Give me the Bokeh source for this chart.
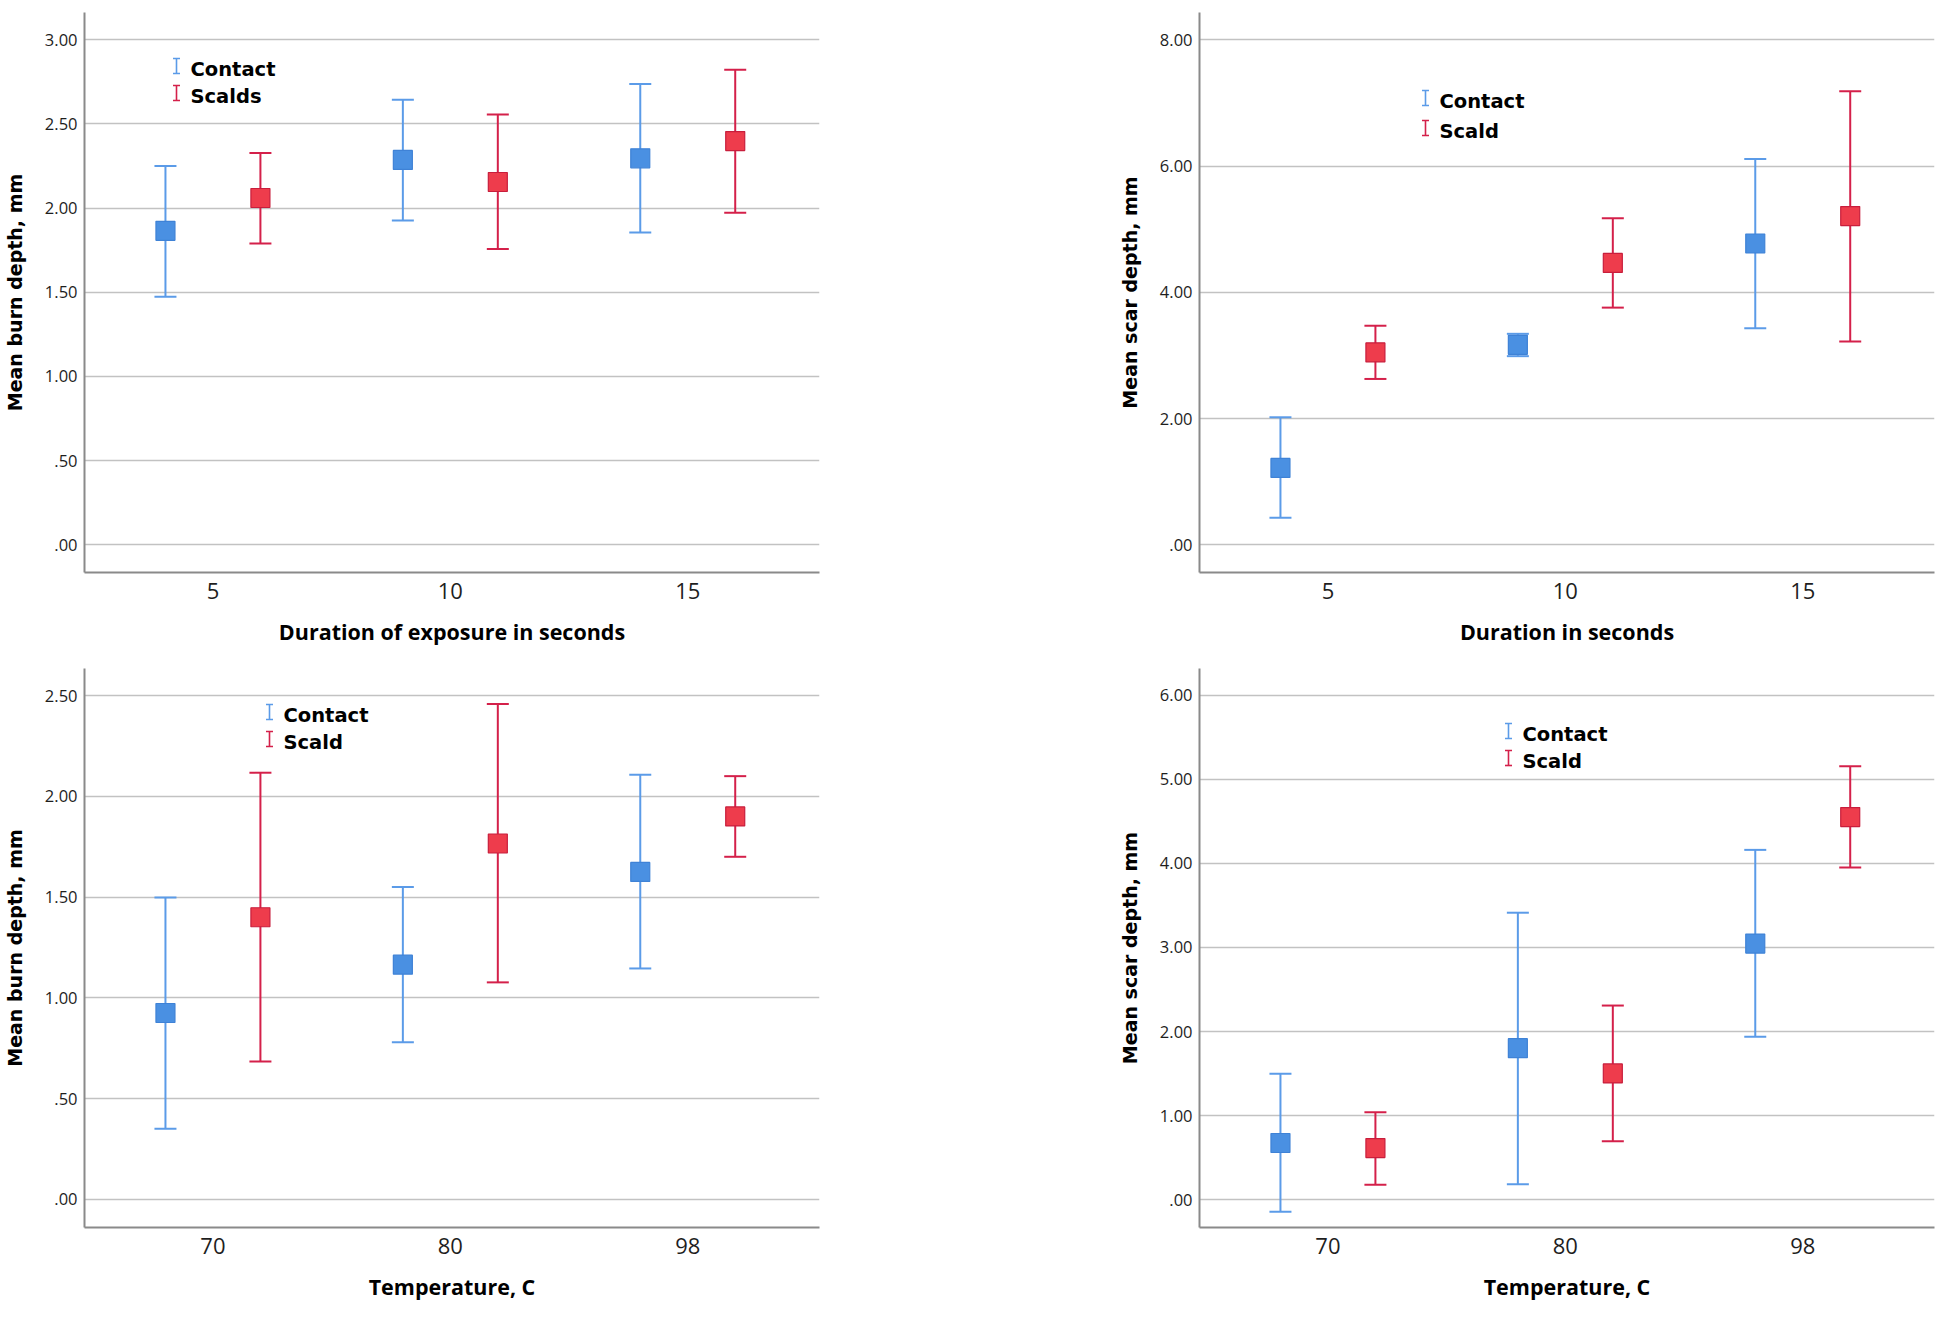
from bokeh.plotting import figure
from bokeh.models import ColumnDataSource, Whisker, TeeHead, FixedTicker, Range1d
from bokeh.layouts import column, row
from bokeh.core.properties import value
from bokeh.embed import file_html
from bokeh.resources import INLINE

# ---------------- data ----------------
duration_cats = ["5", "10", "15"]
temp_cats = ["70", "80", "98"]

# Panel 1: burn depth vs duration
p1_contact_mean = [1.865, 2.286, 2.296]
p1_contact_lo = [1.474, 1.927, 1.855]
p1_contact_hi = [2.250, 2.644, 2.737]
p1_scald_mean = [2.060, 2.155, 2.398]
p1_scald_lo = [1.790, 1.757, 1.972]
p1_scald_hi = [2.328, 2.556, 2.822]
p1_yticks = [0.0, 0.5, 1.0, 1.5, 2.0, 2.5, 3.0]
p1_ylabels = [".00", ".50", "1.00", "1.50", "2.00", "2.50", "3.00"]

# Panel 2: scar depth vs duration
p2_contact_mean = [1.217, 3.168, 4.773]
p2_contact_lo = [0.430, 2.988, 3.430]
p2_contact_hi = [2.020, 3.342, 6.110]
p2_scald_mean = [3.048, 4.465, 5.207]
p2_scald_lo = [2.627, 3.757, 3.222]
p2_scald_hi = [3.470, 5.174, 7.186]
p2_yticks = [0.0, 2.0, 4.0, 6.0, 8.0]
p2_ylabels = [".00", "2.00", "4.00", "6.00", "8.00"]

# Panel 3: burn depth vs temperature
p3_contact_mean = [0.925, 1.165, 1.625]
p3_contact_lo = [0.351, 0.780, 1.146]
p3_contact_hi = [1.498, 1.550, 2.107]
p3_scald_mean = [1.400, 1.766, 1.900]
p3_scald_lo = [0.684, 1.077, 1.700]
p3_scald_hi = [2.117, 2.458, 2.100]
p3_yticks = [0.0, 0.5, 1.0, 1.5, 2.0, 2.5]
p3_ylabels = [".00", ".50", "1.00", "1.50", "2.00", "2.50"]

# Panel 4: scar depth vs temperature
p4_contact_mean = [0.673, 1.802, 3.047]
p4_contact_lo = [-0.146, 0.181, 1.938]
p4_contact_hi = [1.496, 3.414, 4.162]
p4_scald_mean = [0.612, 1.501, 4.553]
p4_scald_lo = [0.176, 0.693, 3.951]
p4_scald_hi = [1.039, 2.309, 5.156]
p4_yticks = [0.0, 1.0, 2.0, 3.0, 4.0, 5.0, 6.0]
p4_ylabels = [".00", "1.00", "2.00", "3.00", "4.00", "5.00", "6.00"]

# ---------------- style ----------------
BLUE_FILL = "#4a90e2"
BLUE_EDGE = "#3f82d6"
BLUE_LINE = "#5b9be8"
RED_FILL = "#ee3c4c"
RED_EDGE = "#c81e3c"
RED_LINE = "#d4204a"
GRID = "#c2c2c2"
AXIS = "#8a8a8a"

FRAME_W = 735
X_RANGE = (-0.541, 2.555)
OFFSET = 0.2


def make_panel(cats, yticks, ylabels, cm, clo, chi, sm, slo, shi,
               xlabel, ylabel, yr, frame_h, legend, names,
               border_left, border_right, border_top, border_bottom):
    p = figure(frame_width=FRAME_W, frame_height=frame_h,
               min_border_left=border_left, min_border_right=border_right,
               min_border_top=border_top, min_border_bottom=border_bottom,
               x_range=Range1d(*X_RANGE), y_range=Range1d(*yr),
               output_backend="svg", toolbar_location=None, tools="")
    p.outline_line_color = None
    p.background_fill_color = "white"
    p.border_fill_color = "white"

    p.xgrid.visible = False
    p.ygrid.grid_line_color = GRID
    p.ygrid.grid_line_width = 1.6
    p.ygrid.ticker = FixedTicker(ticks=yticks)

    xi = list(range(len(cats)))
    p.xaxis.ticker = FixedTicker(ticks=xi)
    p.xaxis.major_label_overrides = {i: c for i, c in zip(xi, cats)}
    p.yaxis.ticker = FixedTicker(ticks=yticks)
    p.yaxis.major_label_overrides = {t: l for t, l in zip(yticks, ylabels)}

    for ax in (p.xaxis[0], p.yaxis[0]):
        ax.axis_line_color = AXIS
        ax.axis_line_width = 2
        ax.major_tick_line_color = None
        ax.minor_tick_line_color = None
        ax.major_tick_out = 0
        ax.major_tick_in = 0
        ax.minor_tick_out = 0
        ax.major_label_text_color = "#1e1e1e"
        ax.axis_label_text_color = "black"
        ax.axis_label_text_font_style = "bold"

    p.yaxis.major_label_text_font = "Open Sans"
    p.yaxis.major_label_text_font_size = "16.5px"
    p.yaxis.major_label_standoff = 7
    p.yaxis.axis_label = ylabel
    p.yaxis.axis_label_text_font = "DejaVu Sans"
    p.yaxis.axis_label_text_font_size = "19px"
    p.yaxis.axis_label_standoff = 16

    p.xaxis.major_label_text_font = "Open Sans"
    p.xaxis.major_label_text_font_size = "22px"
    p.xaxis.major_label_standoff = 10
    p.xaxis.axis_label = xlabel
    p.xaxis.axis_label_text_font = "Open Sans"
    p.xaxis.axis_label_text_font_size = "21.5px"
    p.xaxis.axis_label_standoff = 15

    groups = [
        (cm, clo, chi, -OFFSET, BLUE_FILL, BLUE_EDGE, BLUE_LINE),
        (sm, slo, shi, OFFSET, RED_FILL, RED_EDGE, RED_LINE),
    ]
    for m, lo, hi, off, fill, edge, line in groups:
        src = ColumnDataSource(dict(x=[i + off for i in xi], mean=m, lower=lo, upper=hi))
        w = Whisker(base="x", lower="lower", upper="upper", source=src,
                    dimension="height", line_color=line, line_width=2,
                    upper_head=TeeHead(size=22, line_color=line, line_width=2),
                    lower_head=TeeHead(size=22, line_color=line, line_width=2),
                    level="underlay")
        p.add_layout(w)
        p.scatter("x", "mean", source=src, marker="square", size=19,
                  fill_color=fill, line_color=edge, line_width=1.2)

    # legend (position given in frame pixels, converted to data units)
    icon_px, text_px, rows_px = legend
    xs = (X_RANGE[1] - X_RANGE[0]) / FRAME_W
    ys = (yr[1] - yr[0]) / frame_h

    def dx(px):
        return X_RANGE[0] + px * xs

    def dy(py):
        return yr[1] - py * ys

    for name, ry, line in zip(names, rows_px, (BLUE_LINE, RED_LINE)):
        ix = dx(icon_px)
        top = dy(ry - 11)
        bot = dy(ry + 4)
        hw = 3.5 * xs
        p.segment(x0=[ix, ix - hw, ix - hw], y0=[top, top, bot],
                  x1=[ix, ix + hw, ix + hw], y1=[bot, top, bot],
                  line_color=line, line_width=1.6)
        p.text(x=[dx(text_px)], y=[dy(ry)], text=[name],
               text_font=value("DejaVu Sans"), text_font_style="bold",
               text_font_size="19.5px", text_color="black",
               text_baseline="middle", text_align="left")
    return p


FRAME_H_TOP = 560
FRAME_H_BOT = 559

p1 = make_panel(duration_cats, p1_yticks, p1_ylabels,
                p1_contact_mean, p1_contact_lo, p1_contact_hi,
                p1_scald_mean, p1_scald_lo, p1_scald_hi,
                "Duration of exposure in seconds", "Mean burn depth, mm",
                (-0.1646, 3.162), FRAME_H_TOP,
                (92, 106, (57, 84)), ("Contact", "Scalds"),
                74, 191, 12, 88)
p2 = make_panel(duration_cats, p2_yticks, p2_ylabels,
                p2_contact_mean, p2_contact_lo, p2_contact_hi,
                p2_scald_mean, p2_scald_lo, p2_scald_hi,
                "Duration in seconds", "Mean scar depth, mm",
                (-0.439, 8.432), FRAME_H_TOP,
                (226, 240, (89, 119)), ("Contact", "Scald"),
                189, 8, 12, 88)
p3 = make_panel(temp_cats, p3_yticks, p3_ylabels,
                p3_contact_mean, p3_contact_lo, p3_contact_hi,
                p3_scald_mean, p3_scald_lo, p3_scald_hi,
                "Temperature, C", "Mean burn depth, mm",
                (-0.139, 2.634), FRAME_H_BOT,
                (185, 199, (47, 74)), ("Contact", "Scald"),
                74, 191, 8, 86)
p4 = make_panel(temp_cats, p4_yticks, p4_ylabels,
                p4_contact_mean, p4_contact_lo, p4_contact_hi,
                p4_scald_mean, p4_scald_lo, p4_scald_hi,
                "Temperature, C", "Mean scar depth, mm",
                (-0.333, 6.321), FRAME_H_BOT,
                (309, 323, (66, 93)), ("Contact", "Scald"),
                189, 8, 8, 86)

layout = column(row(p1, p2), row(p3, p4))
open("out.html", "w").write(file_html(layout, INLINE))
